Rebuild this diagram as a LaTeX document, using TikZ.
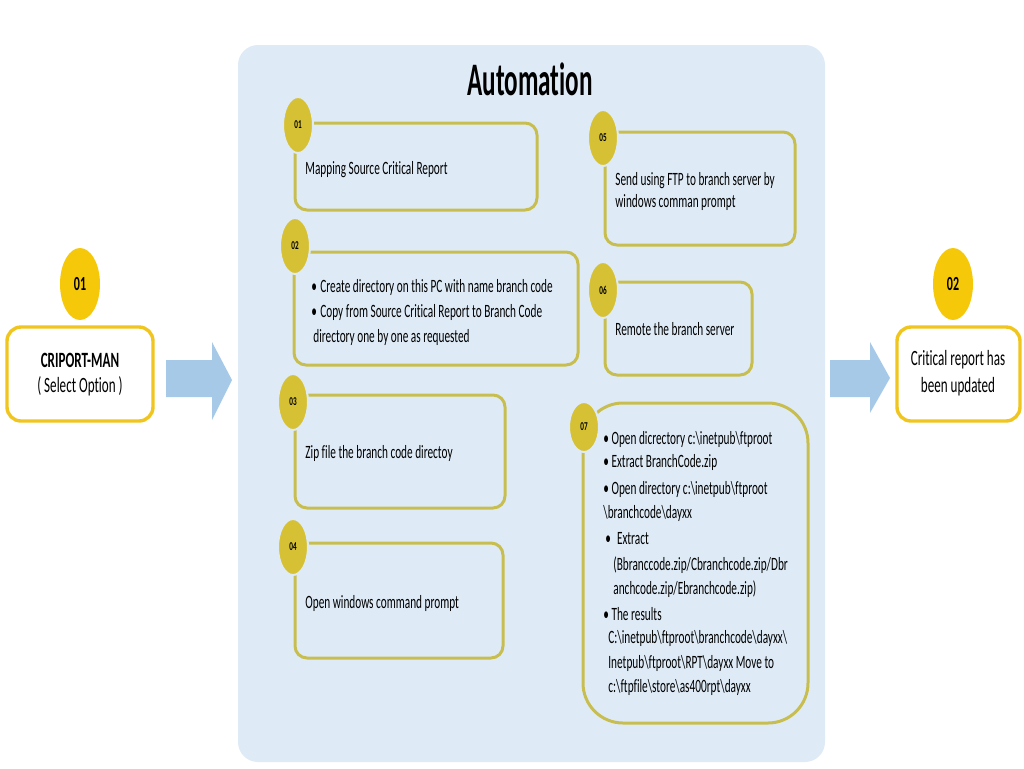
\documentclass[tikz,border=0pt]{standalone}
\usepackage{fontspec}
\setmainfont{Carlito}[FakeStretch=0.6, Ligatures=NoCommon]
\newfontfamily\titlefont{Carlito}[FakeStretch=0.54, Ligatures=NoCommon]
\usetikzlibrary{shapes.geometric}

\definecolor{bgblue}{RGB}{222,235,247}
\definecolor{arrowblue}{RGB}{166,201,232}
\definecolor{stepline}{RGB}{200,190,80}
\definecolor{stepfill}{RGB}{214,193,52}
\definecolor{goldline}{RGB}{240,198,30}
\definecolor{goldfill}{RGB}{246,200,10}

\newcommand{\bs}{\textbackslash}

\tikzset{
    stepbox/.style={draw=stepline, line width=1.5pt, rounded corners=6pt, inner sep=0pt},
    stepdot/.style={ellipse, fill=stepfill, draw=bgblue, line width=1pt, minimum width=15pt, minimum height=28pt, inner sep=0pt, font=\bfseries\fontsize{6}{7}\selectfont},
    steptext/.style={anchor=base west, inner sep=0pt, font=\fontsize{9.4}{11}\selectfont},
    endbox/.style={draw=goldline, line width=1.7pt, rounded corners=7pt, inner sep=0pt},
    enddot/.style={ellipse, fill=goldfill, minimum width=20pt, minimum height=36pt, inner sep=0pt, font=\bfseries\fontsize{10}{12}\selectfont},
    endtext/.style={anchor=base, inner sep=0pt, font=\fontsize{10.9}{13}\selectfont}
}

\begin{document}
\begin{tikzpicture}[x=0.5pt, y=-0.5pt]
        \useasboundingbox (0,0) rectangle (1024,768);
        \fill [white] (0,0) rectangle (1024,768);

        % panel
        \fill [bgblue, rounded corners=10pt] (238,45) rectangle (825,762);
        \node [anchor=base, inner sep=0pt, font=\titlefont\bfseries\fontsize{23.3}{28}\selectfont] (title) at (530,95) {Automation};

        % start and end
        \node [endbox, minimum width=73pt, minimum height=47pt] (start) at (80,374) {};
        \node [enddot] (startdot) at (80,284) {01};
        \node [endtext, font=\bfseries\fontsize{10.9}{13}\selectfont] (startA) at (80,367) {CRIPORT-MAN};
        \node [endtext] (startB) at (80,392) {( Select Option )};

        \node [endbox, minimum width=61.5pt, minimum height=47pt] (end) at (958.5,374) {};
        \node [enddot] (enddot) at (953,284) {02};
        \node [endtext] (endA) at (958,365) {Critical report has};
        \node [endtext] (endB) at (958,392) {been updated};

        \fill [arrowblue] (166,360) -- (212,360) -- (212,342) -- (232,380) -- (212,420) -- (212,397) -- (166,397) -- cycle;
        \fill [arrowblue] (830,360) -- (870,360) -- (870,342) -- (890,378) -- (870,413) -- (870,397) -- (830,397) -- cycle;

        % steps
        \node [stepbox, minimum width=121pt, minimum height=43.5pt] (s1) at (416,166.5) {};
        \node [stepbox, minimum width=142pt, minimum height=56.5pt] (s2) at (436,308.5) {};
        \node [stepbox, minimum width=105pt, minimum height=56.5pt] (s3) at (400,451.5) {};
        \node [stepbox, minimum width=104pt, minimum height=57.5pt] (s4) at (399,600.5) {};
        \node [stepbox, minimum width=95pt, minimum height=56.5pt] (s5) at (700,188.5) {};
        \node [stepbox, minimum width=73.5pt, minimum height=46.5pt] (s6) at (678.5,328.5) {};
        \node [stepbox, rounded corners=20pt, minimum width=112.5pt, minimum height=160pt] (s7) at (695.5,563) {};

        \node [stepdot] (d1) at (298,125) {01};
        \node [stepdot] (d2) at (295,246) {02};
        \node [stepdot] (d3) at (293,402) {03};
        \node [stepdot] (d4) at (293,547) {04};
        \node [stepdot] (d5) at (603,138) {05};
        \node [stepdot] (d6) at (603,290) {06};
        \node [stepdot, minimum height=25pt] (d7) at (584,427) {07};

        \node [steptext] (t1) at (305,174) {Mapping Source Critical Report};
        \node [steptext] (t2a) at (311,292) {\textbullet\hspace{1.7pt}Create directory on this PC with name branch code};
        \node [steptext] (t2b) at (311,317) {\textbullet\hspace{1.7pt}Copy from Source Critical Report to Branch Code};
        \node [steptext] (t2c) at (313,342) {directory one by one as requested};
        \node [steptext] (t3) at (305,458) {Zip file the branch code directoy};
        \node [steptext] (t4) at (305,608) {Open windows command prompt};
        \node [steptext] (t5a) at (615,185) {Send using FTP to branch server by};
        \node [steptext] (t5b) at (615,207) {windows comman prompt};
        \node [steptext] (t6) at (615,335) {Remote the branch server};

        \node [steptext] (t7a) at (603,444) {\textbullet\ Open dicrectory c:\bs{}inetpub\bs{}ftproot};
        \node [steptext] (t7b) at (603,467) {\textbullet\ Extract BranchCode.zip};
        \node [steptext] (t7c) at (603,494) {\textbullet\ Open directory c:\bs{}inetpub\bs{}ftproot};
        \node [steptext] (t7d) at (603,518) {\bs{}branchcode\bs{}dayxx};
        \node [steptext] (t7e) at (605,544) {\textbullet\hspace{3pt}Extract};
        \node [steptext] (t7f) at (613,570) {(Bbranccode.zip/Cbranchcode.zip/Dbr};
        \node [steptext] (t7g) at (613,594) {anchcode.zip/Ebranchcode.zip)};
        \node [steptext] (t7h) at (603,620) {\textbullet\ The results};
        \node [steptext] (t7i) at (608,643) {C:\bs{}inetpub\bs{}ftproot\bs{}branchcode\bs{}dayxx\bs{}};
        \node [steptext] (t7j) at (608,668) {Inetpub\bs{}ftproot\bs{}RPT\bs{}dayxx Move to};
        \node [steptext] (t7k) at (608,692) {c:\bs{}ftpfile\bs{}store\bs{}as400rpt\bs{}dayxx};
\end{tikzpicture}
\end{document}
